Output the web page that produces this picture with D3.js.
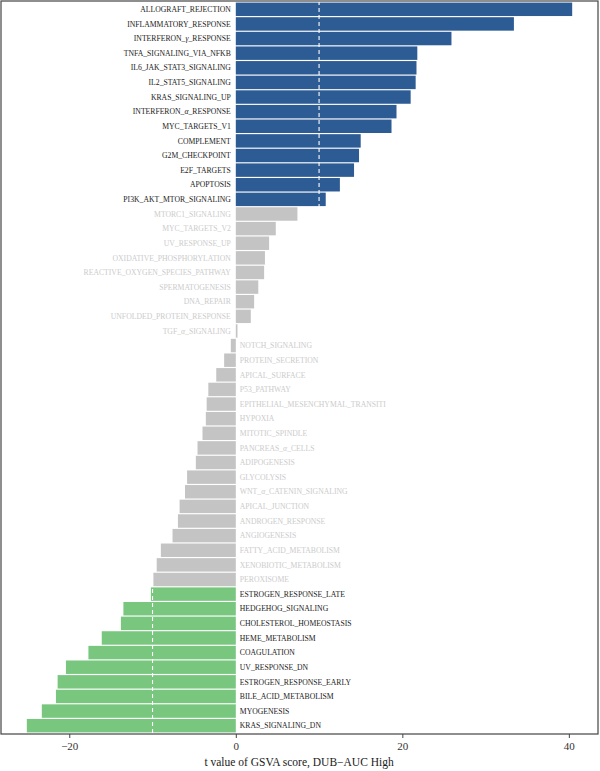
<!DOCTYPE html>
<html>
<head>
<meta charset="utf-8">
<script src="https://cdn.jsdelivr.net/npm/d3@7"></script>
<style>
  body { margin: 0; background: #fff; }
  svg text { font-family: "Liberation Serif", "DejaVu Serif", serif; }
</style>
</head>
<body>
<svg id="chart" width="600" height="771"></svg>
<script>
// pathway names, top to bottom (greek letters marked with {})
const pathways = [
  "ALLOGRAFT_REJECTION", "INFLAMMATORY_RESPONSE", "INTERFERON_{γ}_RESPONSE",
  "TNFA_SIGNALING_VIA_NFKB", "IL6_JAK_STAT3_SIGNALING", "IL2_STAT5_SIGNALING",
  "KRAS_SIGNALING_UP", "INTERFERON_{α}_RESPONSE", "MYC_TARGETS_V1", "COMPLEMENT",
  "G2M_CHECKPOINT", "E2F_TARGETS", "APOPTOSIS", "PI3K_AKT_MTOR_SIGNALING",
  "MTORC1_SIGNALING", "MYC_TARGETS_V2", "UV_RESPONSE_UP", "OXIDATIVE_PHOSPHORYLATION",
  "REACTIVE_OXYGEN_SPECIES_PATHWAY", "SPERMATOGENESIS", "DNA_REPAIR",
  "UNFOLDED_PROTEIN_RESPONSE", "TGF_{α}_SIGNALING",
  "NOTCH_SIGNALING", "PROTEIN_SECRETION", "APICAL_SURFACE", "P53_PATHWAY",
  "EPITHELIAL_MESENCHYMAL_TRANSITI", "HYPOXIA", "MITOTIC_SPINDLE", "PANCREAS_{α}_CELLS",
  "ADIPOGENESIS", "GLYCOLYSIS", "WNT_{α}_CATENIN_SIGNALING", "APICAL_JUNCTION",
  "ANDROGEN_RESPONSE", "ANGIOGENESIS", "FATTY_ACID_METABOLISM", "XENOBIOTIC_METABOLISM",
  "PEROXISOME",
  "ESTROGEN_RESPONSE_LATE", "HEDGEHOG_SIGNALING", "CHOLESTEROL_HOMEOSTASIS",
  "HEME_METABOLISM", "COAGULATION", "UV_RESPONSE_DN", "ESTROGEN_RESPONSE_EARLY",
  "BILE_ACID_METABOLISM", "MYOGENESIS", "KRAS_SIGNALING_DN"
];

const tValues = [
  40.4, 33.4, 25.9, 21.8, 21.7, 21.6, 21.0, 19.3, 18.7, 15.0,
  14.8, 14.2, 12.5, 10.8,
  7.4, 4.8, 4.0, 3.5, 3.4, 2.7, 2.2, 1.8, 0.2,
  -0.6, -1.4, -2.35, -3.3, -3.5, -3.6, -4.0, -4.6,
  -4.8, -5.85, -6.1, -6.75, -6.95, -7.6, -9.0, -9.5, -9.9,
  -10.2, -13.5, -13.8, -16.1, -17.7, -20.4, -21.4, -21.6, -23.3, -25.1
];

const xTicks = [-20, 0, 20, 40];
const cutoff = 10;
const xTitle = "t value of GSVA score, DUB\u2212AUC High";

const data = pathways.map((p, i) => ({ name: p, t: tValues[i] }));

const colUp = "#2d5b93", colDown = "#79c77f", colNs = "#c4c4c4";
const barColor = d => d.t > cutoff ? colUp : d.t < -cutoff ? colDown : colNs;
const textColor = d => Math.abs(d.t) > cutoff ? "#1a1a1a" : "#cbcbcb";

const svg = d3.select("#chart");
const panel = { left: 1, right: 598, top: 1, bottom: 734 };

const x = d3.scaleLinear()
  .domain([-28.2, 43.5])
  .range([panel.left, panel.right]);

const y = d3.scaleBand()
  .domain(pathways)
  .range([panel.top + 1, panel.bottom - 1])
  .paddingInner(0.08)
  .paddingOuter(0.04);

const g = svg.append("g");

g.selectAll("rect.bar")
  .data(data)
  .enter()
  .append("rect")
  .attr("class", "bar")
  .attr("x", d => Math.min(x(0), x(d.t)))
  .attr("width", d => Math.abs(x(d.t) - x(0)))
  .attr("y", d => y(d.name))
  .attr("height", y.bandwidth())
  .attr("fill", barColor);

// cutoff lines, drawn over the bars
g.selectAll("line.cut")
  .data([-cutoff, cutoff])
  .enter()
  .append("line")
  .attr("x1", d => x(d))
  .attr("x2", d => x(d))
  .attr("y1", panel.top)
  .attr("y2", panel.bottom)
  .attr("stroke", "#ffffff")
  .attr("stroke-width", 1.1)
  .attr("stroke-dasharray", "4,3");

// labels
const labels = g.selectAll("text.lab")
  .data(data)
  .enter()
  .append("text")
  .attr("class", "lab")
  .attr("x", d => d.t >= 0 ? x(0) - 5 : x(0) + 4)
  .attr("y", d => y(d.name) + y.bandwidth() / 2)
  .attr("dy", "0.35em")
  .attr("text-anchor", d => d.t >= 0 ? "end" : "start")
  .attr("font-size", 7.7)
  .attr("fill", textColor);

labels.each(function (d) {
  const t = d3.select(this);
  d.name.split(/(\{[^}]*\})/).forEach(part => {
    if (!part) return;
    if (part.startsWith("{")) {
      t.append("tspan").attr("font-style", "italic").text(part.slice(1, -1));
    } else {
      t.append("tspan").text(part);
    }
  });
});

// panel frame
svg.append("rect")
  .attr("x", panel.left)
  .attr("y", panel.top)
  .attr("width", panel.right - panel.left)
  .attr("height", panel.bottom - panel.top)
  .attr("fill", "none")
  .attr("stroke", "#444")
  .attr("stroke-width", 1.2);

// x axis
const xAxis = d3.axisBottom(x)
  .tickValues(xTicks)
  .tickSize(4)
  .tickPadding(4)
  .tickFormat(d => d < 0 ? "\u2212" + Math.abs(d) : d);

const ax = svg.append("g")
  .attr("transform", `translate(0, ${panel.bottom})`)
  .call(xAxis);
ax.select(".domain").remove();
ax.selectAll(".tick line").attr("stroke", "#444");
ax.selectAll(".tick text")
  .attr("font-size", 11)
  .attr("fill", "#333")
  .style("font-family", "'Liberation Serif', serif");

svg.append("text")
  .attr("x", (x(0) + x(20)) / 2 - 20)
  .attr("y", 766)
  .attr("text-anchor", "middle")
  .attr("font-size", 11.5)
  .attr("fill", "#1a1a1a")
  .text(xTitle);
</script>
</body>
</html>
